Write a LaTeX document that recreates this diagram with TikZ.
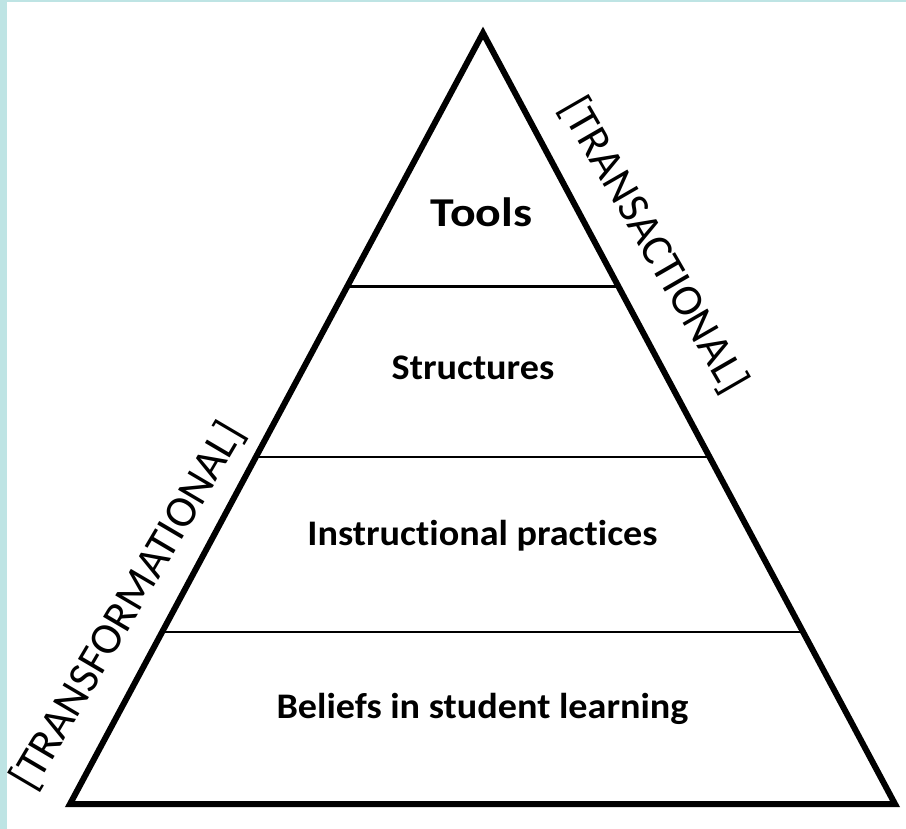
\documentclass[tikz,border=0pt]{standalone}
\usepackage{fontspec}
\setmainfont{Carlito}[Ligatures=NoCommon]
\definecolor{frame}{RGB}{190,228,228}
\begin{document}
\begin{tikzpicture}[x=1pt,y=-1pt,
  edge/.style={line width=6pt,line join=miter},
  tier/.style={line width=2.4pt},
  lvl/.style={font=\bfseries\fontsize{36}{38}\selectfont,inner sep=0pt,anchor=base,xscale=1.06},
  side/.style={font=\fontsize{44.5}{46}\selectfont,inner sep=0pt}]
\useasboundingbox (0,0) rectangle (906,829);
\fill[white] (0,0) rectangle (906,829);
\fill[frame] (0,0) rectangle (7,829);
\fill[frame] (0,0) rectangle (906,2);
\coordinate (apex) at (483,33);
\coordinate (bl) at (70,804);
\coordinate (br) at (895,804);
\draw[edge] (apex) -- (bl) -- (br) -- cycle;
\path (apex) -- (bl) coordinate[pos=0.329] (l1) coordinate[pos=0.55] (l2) coordinate[pos=0.777] (l3);
\path (apex) -- (br) coordinate[pos=0.329] (r1) coordinate[pos=0.55] (r2) coordinate[pos=0.777] (r3);
\draw[tier] (l1) -- (r1);
\draw[tier] (l2) -- (r2);
\draw[tier] (l3) -- (r3);
\node[lvl,font=\bfseries\fontsize{41}{43}\selectfont,xscale=1.1] (tools) at (481.5,227) {Tools};
\node[lvl] (struct) at (473,380) {Structures};
\node[lvl] (instr) at (482.5,545) {Instructional practices};
\node[lvl] (belief) at (482.5,718) {Beliefs in student learning};
\node[side,rotate=-60] (transa) at (653.5,245.5) {[TRANSACTIONAL]};
\node[side,rotate=59.5] (transf) at (128,606) {[TRANSFORMATIONAL]};
\end{tikzpicture}
\end{document}
